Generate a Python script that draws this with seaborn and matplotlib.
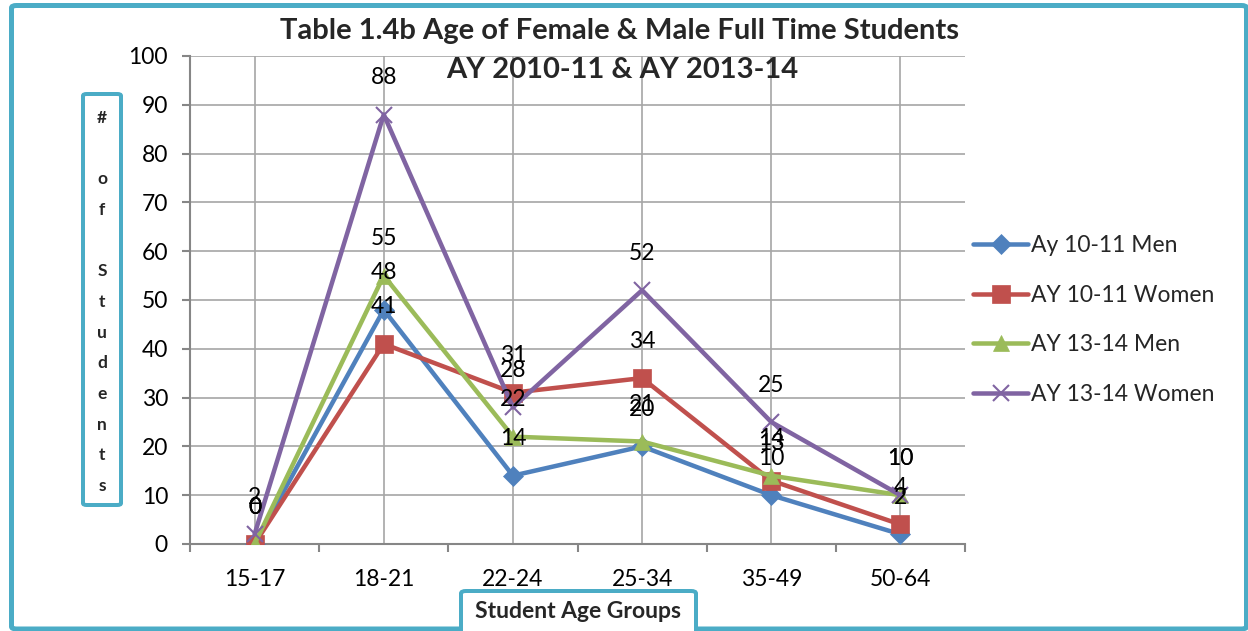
import matplotlib
matplotlib.use("Agg")
import matplotlib.pyplot as plt
from matplotlib.patches import FancyBboxPatch
from matplotlib.ticker import FixedLocator
import seaborn as sns
import pandas as pd

# Student counts per age group
age_groups = ["15-17", "18-21", "22-24", "25-34", "35-49", "50-64"]
men_1011 = [0, 48, 14, 20, 10, 2]
women_1011 = [0, 41, 31, 34, 13, 4]
men_1314 = [0, 55, 22, 21, 14, 10]
women_1314 = [2, 88, 28, 52, 25, 10]

series_names = ["Ay 10-11 Men", "AY 10-11 Women", "AY 13-14 Men", "AY 13-14 Women"]
series_values = [men_1011, women_1011, men_1314, women_1314]
colors = ["#4F81BD", "#C0504D", "#9BBB59", "#8064A2"]
markers = ["D", "s", "^", "x"]
marker_sizes = [10, 13, 12, 12]

W, H = 1248, 631
DPI = 100
PT = 72 / DPI  # points per pixel

sns.set_theme(style="white")
plt.rcParams["font.family"] = ["Lato", "DejaVu Sans"]

fig = plt.figure(figsize=(W / DPI, H / DPI), dpi=DPI)
fig.patch.set_facecolor("white")


def fx(px):
    return px / W


def fy(py):
    return 1 - py / H


ax = fig.add_axes([fx(190), fy(544), fx(965) - fx(190), fy(56) - fy(544)])

df = pd.DataFrame({
    "Age": age_groups * len(series_names),
    "Students": [v for vals in series_values for v in vals],
    "Series": [n for n in series_names for _ in age_groups],
})

label_size = 16.5
handles = []
for name, col, mk, ms in zip(series_names, colors, markers, marker_sizes):
    sub = df[df["Series"] == name]
    sns.lineplot(data=sub, x="Age", y="Students", ax=ax, color=col,
                 linewidth=4.5 * PT, marker=mk, markersize=ms,
                 markeredgecolor=col, markerfacecolor=col,
                 markeredgewidth=1.5 if mk == "x" else 0.5,
                 sort=False, legend=False, zorder=3)
    handles.append(ax.lines[-1])
    for xc, yv in zip(sub["Age"], sub["Students"]):
        ax.annotate(str(yv), (xc, yv), xytext=(0, 37 * PT), textcoords="offset points",
                    ha="center", va="center", fontsize=label_size, color="black",
                    zorder=5)

ax.set_xlim(-0.5, len(age_groups) - 0.5)
ax.set_ylim(0, 100)
ax.set_yticks(range(0, 101, 10))
ax.set_xticks(range(len(age_groups)))
ax.set_xticklabels(age_groups)
ax.xaxis.set_minor_locator(FixedLocator([i - 0.5 for i in range(len(age_groups) + 1)]))

grid_col = "#A6A6A6"
ax.grid(True, axis="both", which="major", color=grid_col, linewidth=1.2)
ax.set_axisbelow(True)
for side in ["top", "right"]:
    ax.spines[side].set_visible(False)
for side in ["left", "bottom"]:
    ax.spines[side].set_color("#868686")
    ax.spines[side].set_linewidth(1.5)

ax.tick_params(axis="y", which="major", length=8 * PT, width=1.5, color="#868686",
               direction="out", pad=14 * PT, labelsize=label_size, labelcolor="black", left=True)
ax.tick_params(axis="x", which="major", length=0, pad=25 * PT,
               labelsize=label_size, labelcolor="black")
ax.tick_params(axis="x", which="minor", length=8 * PT, width=1.5, color="#868686",
               direction="out", bottom=True)
ax.set_xlabel("")
ax.set_ylabel("")

# Title
fig.text(fx(620), fy(31), "Table 1.4b Age of Female & Male Full Time Students",
         ha="center", va="center", fontsize=21, fontweight="bold")
fig.text(fx(622), fy(70), "AY 2010-11 & AY 2013-14",
         ha="center", va="center", fontsize=21, fontweight="bold")

teal = "#4BACC6"

# Outer frame
fig.patches.append(FancyBboxPatch((fx(11.5), fy(629)), fx(1246.5) - fx(11.5), fy(5.5) - fy(629),
                                  boxstyle="round,pad=0,rounding_size=0.004",
                                  transform=fig.transFigure, facecolor="none",
                                  edgecolor=teal, linewidth=5 * PT, zorder=10))

# Vertical y-axis title box
fig.patches.append(FancyBboxPatch((fx(83), fy(505)), fx(121) - fx(83), fy(94) - fy(505),
                                  boxstyle="round,pad=0,rounding_size=0.003",
                                  transform=fig.transFigure, facecolor="white",
                                  edgecolor=teal, linewidth=4 * PT, zorder=10))
ylabel_chars = ["#", "", "o", "f", "", "S", "t", "u", "d", "e", "n", "t", "s"]
for i, ch in enumerate(ylabel_chars):
    if ch:
        fig.text(fx(102), fy(118 + i * 30.67), ch, ha="center", va="center",
                 fontsize=12.5, fontweight="bold", zorder=11)

# X-axis title box
fig.patches.append(FancyBboxPatch((fx(461), fy(640)), fx(696) - fx(461), fy(591) - fy(640),
                                  boxstyle="round,pad=0,rounding_size=0.004",
                                  transform=fig.transFigure, facecolor="white",
                                  edgecolor=teal, linewidth=4 * PT, zorder=10))
fig.text(fx(578), fy(612), "Student Age Groups", ha="center", va="center",
         fontsize=16.5, fontweight="bold", zorder=11)

# Legend
leg = fig.legend(handles, series_names, loc="upper left",
                 bbox_to_anchor=(fx(973), fy(235)), frameon=False,
                 fontsize=16.5, handlelength=2.4, handletextpad=0.15,
                 labelspacing=1.25, borderaxespad=0, borderpad=0)

fig.savefig("out.png", dpi=DPI)
